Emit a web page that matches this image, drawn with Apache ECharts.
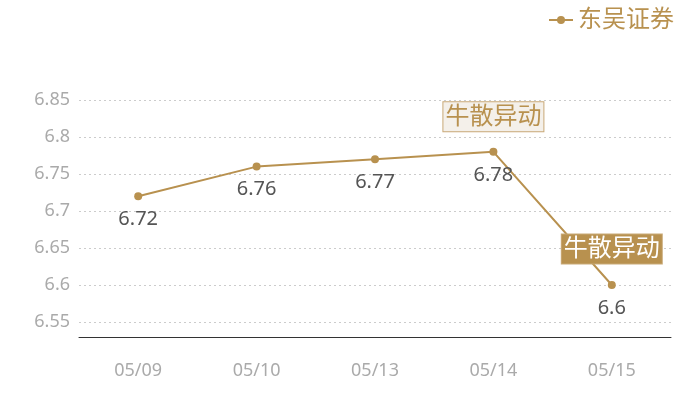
<!DOCTYPE html>
<html><head><meta charset="utf-8">
<script src="https://cdn.jsdelivr.net/npm/echarts@6/dist/echarts.min.js"></script>
<style>html,body{margin:0;padding:0;background:#fff}#c{width:700px;height:400px}</style>
</head><body><div id="c"></div>
<script>
const categories = ['05/09','05/10','05/13','05/14','05/15'];
const seriesName = '东吴证券';
const values = [6.72, 6.76, 6.77, 6.78, 6.6];
const markLabel = '牛散异动';
const markCats = ['05/14','05/15'];
const markVals = [6.78, 6.6];

const gold = '#b8914f';
const font = "'Noto Sans','Noto Sans CJK SC',sans-serif";
const chart = echarts.init(document.getElementById('c'));
chart.setOption({
  animation: false,
  textStyle: {fontFamily: font},
  legend: {
    right: 21, top: 3, itemWidth: 24, itemHeight: 10, itemGap: 6,
    textStyle: {color: gold, fontSize: 24, fontFamily: font},
    data: [seriesName]
  },
  grid: {left: 79, right: 29, top: 100, bottom: 78},
  xAxis: {
    type: 'category', data: categories, boundaryGap: true, offset: 15,
    axisLine: {lineStyle: {color: '#333', width: 1}},
    axisTick: {show: false},
    axisLabel: {color: '#aaa', fontSize: 18, margin: 25, fontFamily: font}
  },
  yAxis: {
    type: 'value', min: 6.55, max: 6.85, interval: 0.05,
    axisLine: {show: false}, axisTick: {show: false},
    axisLabel: {color: '#aaa', fontSize: 18, margin: 9, fontFamily: font},
    splitLine: {lineStyle: {color: '#ccc', type: [2, 3], width: 1}}
  },
  series: [{
    name: seriesName, type: 'line', data: values,
    symbol: 'circle', symbolSize: 8,
    itemStyle: {color: gold},
    lineStyle: {color: gold, width: 2},
    label: {show: true, position: 'bottom', distance: 9, color: '#555', fontSize: 20, fontFamily: font},
    markPoint: {
      symbol: 'rect', symbolSize: [0, 0],
      data: [
        {coord: [markCats[0], markVals[0]], value: markLabel,
         label: {show: true, formatter: markLabel, offset: [0, -35], color: gold, fontSize: 24,
                 backgroundColor: '#f4f0ea', borderColor: '#c9a977', borderWidth: 1,
                 padding: [3, 2, 2, 2], fontFamily: font}},
        {coord: [markCats[1], markVals[1]], value: markLabel,
         label: {show: true, formatter: markLabel, offset: [0, -36], color: '#fff', fontSize: 24,
                 backgroundColor: gold, borderColor: '#c9a977', borderWidth: 1,
                 padding: [3, 2, 2, 2], fontFamily: font}}
      ]
    }
  }]
});
</script></body></html>
